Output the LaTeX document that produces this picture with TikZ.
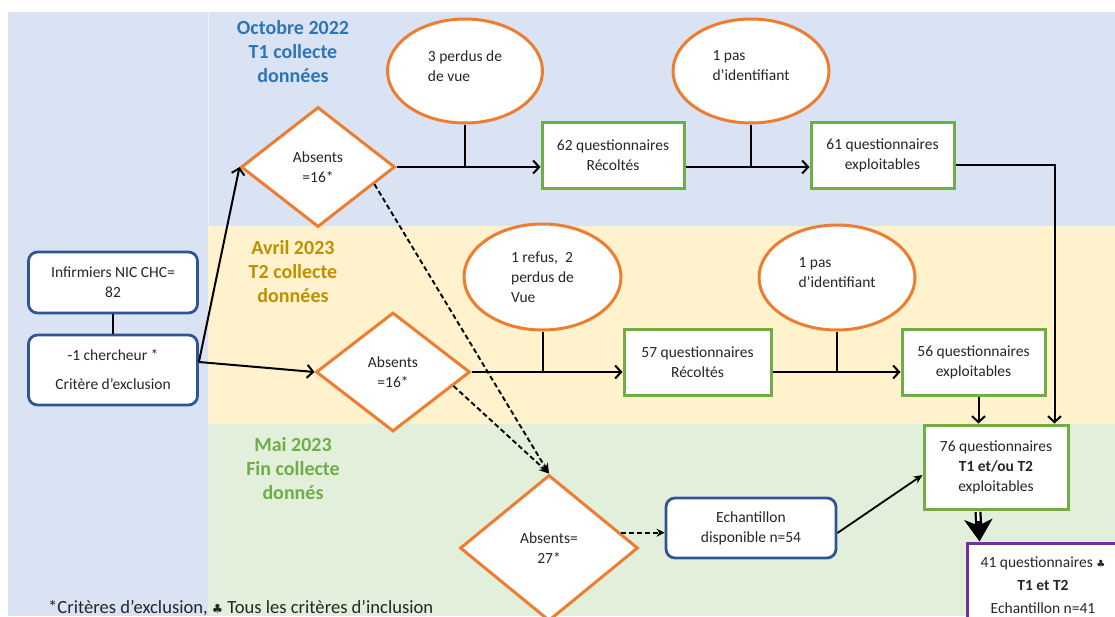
\documentclass[tikz,border=0pt]{standalone}
\usepackage{fontspec}
\setmainfont{Carlito}
\newfontfamily\symfont{DejaVu Sans}
\usetikzlibrary{shapes.geometric,arrows.meta,calc}
\definecolor{bgblue}{HTML}{DAE3F3}
\definecolor{bgyellow}{HTML}{FFF2CC}
\definecolor{bggreen}{HTML}{E2EFDA}
\definecolor{orng}{HTML}{ED7D31}
\definecolor{grn}{HTML}{70AD47}
\definecolor{dblue}{HTML}{2F5597}
\definecolor{purp}{HTML}{7030A0}
\definecolor{tblue}{HTML}{2E75B6}
\definecolor{tgold}{HTML}{BF9000}
\definecolor{tgreen}{HTML}{70AD47}
\begin{document}
\begin{tikzpicture}[x=1pt,y=-1pt,
 every node/.style={font=\fontsize{15.5}{20}\selectfont, inner sep=0pt, text=black!85},
 ovalbox/.style={ellipse, draw=orng, line width=3pt, fill=white, align=left},
 decbox/.style={diamond, draw=orng, line width=3pt, fill=white, align=center},
 qbox/.style={rectangle, draw=grn, line width=3pt, fill=white, align=center},
 rbox/.style={rectangle, rounded corners=9pt, draw=dblue, line width=2.8pt, fill=white, align=center},
 ttl/.style={font=\fontsize{20}{24}\selectfont\bfseries, align=center},
 conn/.style={line width=2pt, draw=black},
 arr/.style={conn, -{Straight Barb[length=6pt,width=13pt]}},
 darr/.style={line width=1.9pt, dash pattern=on 5pt off 3pt, -{Stealth[length=10pt,width=9pt]}},
]
\useasboundingbox (0,0) rectangle (1115,616);
\clip (0,0) rectangle (1115,616);
% backgrounds
\fill[white] (0,0) rectangle (1115,616);
\fill[bgblue] (8,12) rectangle (1115,616);
\fill[bgyellow] (208,226) rectangle (1115,424);
\fill[bggreen] (208,424) rectangle (1115,616);
\draw[white!55!bgblue, line width=0.8pt] (208.5,12) -- (208.5,226);

% titles
\node[ttl, text=tblue] (t1) at (293,52) {Octobre 2022\\T1 collecte\\données};
\node[ttl, text=tgold] (t2) at (293,272) {Avril 2023\\T2 collecte\\données};
\node[ttl, text=tgreen] (t3) at (293,469) {Mai 2023\\Fin collecte\\donnés};

% left boxes
\node[rbox, minimum width=169, minimum height=61] (inf) at (113,282.5) {Infirmiers NIC CHC=\\82};
\node[rbox, minimum width=169, minimum height=70] (cher) at (113,370) {-1 chercheur *\\[9pt]Critère d’exclusion};

% diamonds
\node[decbox, minimum width=154, minimum height=120] (d1) at (318,167) {Absents\\=16*};
\node[decbox, minimum width=154, minimum height=119] (d2) at (393,372) {Absents\\=16*};
\node[decbox, minimum width=178, minimum height=146] (d3) at (549,548) {Absents=\\27*};

% ellipses
\node[ovalbox, minimum width=155, minimum height=104] (e1) at (465,71) {3 perdus de\\de vue\\[-10pt]};
\node[ovalbox, minimum width=156, minimum height=104] (e2) at (751,71) {1 pas\\d’identifiant\\[-10pt]};
\node[ovalbox, minimum width=157, minimum height=106] (e3) at (542.5,277) {1 refus,~ 2\\perdus de\\Vue};
\node[ovalbox, minimum width=156, minimum height=105] (e4) at (837,277.5) {1 pas\\d’identifiant\\[-10pt]};

% questionnaire boxes
\node[qbox, minimum width=142, minimum height=66] (b62) at (613,155) {62 questionnaires\\Récoltés};
\node[qbox, minimum width=143, minimum height=66] (b61) at (882.5,155) {61 questionnaires\\exploitables};
\node[qbox, minimum width=147, minimum height=66] (b57) at (697.5,362) {57 questionnaires\\Récoltés};
\node[qbox, minimum width=143, minimum height=66] (b56) at (973.5,362) {56 questionnaires\\exploitables};
\node[qbox, minimum width=144, minimum height=84] (b76) at (996,467) {76 questionnaires\\\textbf{T1 et/ou T2}\\exploitables};
\node[rbox, minimum width=170, minimum height=60] (ech) at (751,528) {Echantillon\\disponible n=54};
\node[qbox, draw=purp, minimum width=152, minimum height=84] (b41) at (1043,585) {41 questionnaires {\symfont\fontsize{10}{12}\selectfont ♣}\\[3pt]\textbf{T1 et T2}\\[3pt]Echantillon n=41};

% footnote
\node[anchor=west, font=\fontsize{18.6}{20}\selectfont] (fn) at (48,608) {*Critères d’exclusion, {\symfont\fontsize{12.5}{14}\selectfont ♣} Tous les critères d’inclusion};

% connectors left
\draw[conn] (inf.south) -- (cher.north);
\coordinate (cs) at ($(cher.east)+(0,-8)$);
\draw[arr] (cs) -- (d1.west);
\draw[arr] (cs) -- (d2.west);

% top row
\draw[arr] (d1.east) -- (d1.east -| b62.west);
\draw[conn] (e1.south) -- (e1.south |- d1.east);
\coordinate (m1) at ($(b62.east)+(0,12)$);
\draw[arr] (m1) -- (m1 -| b61.west);
\draw[conn] (e2.south) -- (e2.south |- m1);
\draw[arr] ($(b61.east)+(0,10)$) -| ($(b76.north east)+(-15,0)$);

% middle row
\draw[arr] (d2.east) -- (d2.east -| b57.west);
\draw[conn] (e3.south) -- (e3.south |- d2.east);
\coordinate (m2) at ($(b57.east)+(0,10)$);
\draw[arr] (m2) -- (m2 -| b56.west);
\draw[conn] (e4.south) -- (e4.south |- m2);
\coordinate (c56) at ($(b56.south)+(5,0)$);
\draw[arr] (c56) -- (c56 |- b76.north);

% dashed
\draw[darr] (d1.-17) -- (d3.north);
\draw[darr] (d2.-13) -- (d3.north);
\draw[line width=1.9pt, dash pattern=on 5pt off 3pt, -{Stealth[length=8pt,width=8pt]}] (d3.12) -- (d3.12 -| ech.west);

% bottom
\draw[line width=1.8pt, -{Stealth[length=9pt,width=8pt]}] ($(ech.east)+(0,5)$) -- ($(b76.west)+(0,8)$);
\coordinate (ta) at ($(b76.south)+(-18,1.5)$);
\coordinate (tb) at ($(b41.north west)+(14,0)$);
\draw[line width=7pt, -{Stealth[length=22pt,width=28pt,inset=6pt]}] (ta) -- (tb);
\draw[white, line width=2.5pt] (ta) -- ($(ta)!0.3!(tb)$);
\end{tikzpicture}
\end{document}
